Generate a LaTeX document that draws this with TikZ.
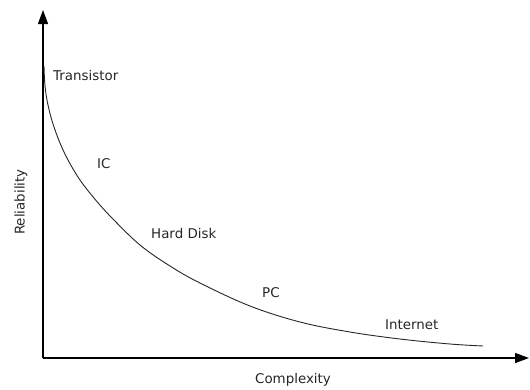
\documentclass[tikz,border=0pt]{standalone}
\usepackage{fontspec}
\setmainfont{DejaVu Sans}
\usetikzlibrary{arrows.meta}
\begin{document}
\begin{tikzpicture}[x=1pt,y=-1pt,
  axis/.style={line width=1.3pt,-{Triangle[length=14pt,width=10pt]}},
  curveline/.style={line width=0.9pt,black!85},
  lbl/.style={anchor=base west,inner sep=0pt,font=\fontsize{13.4}{15}\selectfont,text=black!85}]
\useasboundingbox (0,0) rectangle (530,389);
\coordinate (o) at (43,358);
\coordinate (ytip) at (43,10);
\coordinate (xtip) at (529,358);
\draw[axis] (o) -- (ytip);
\draw[axis] (o) -- (xtip);
\draw[curveline] plot[smooth,tension=0.6] coordinates {(44,66) (45,86) (48,105) (54,127) (64,152) (78,177) (94,198) (112,218) (140,245) (170,266) (200,283) (250,306) (300,322) (350,332) (400,339) (450,344) (483,346)};
\node[lbl] (tr) at (53,80) {Transistor};
\node[lbl] (ic) at (97,168) {IC};
\node[lbl] (hd) at (151,238) {Hard Disk};
\node[lbl] (pc) at (262,297) {PC};
\node[lbl] (in) at (385,329) {Internet};
\node[inner sep=0pt,font=\fontsize{13.4}{15}\selectfont,text=black!85] (cx) at (293,380) {Complexity};
\node[inner sep=0pt,font=\fontsize{13.4}{15}\selectfont,text=black!85,rotate=90] (rl) at (21,202) {Reliability};
\end{tikzpicture}
\end{document}
